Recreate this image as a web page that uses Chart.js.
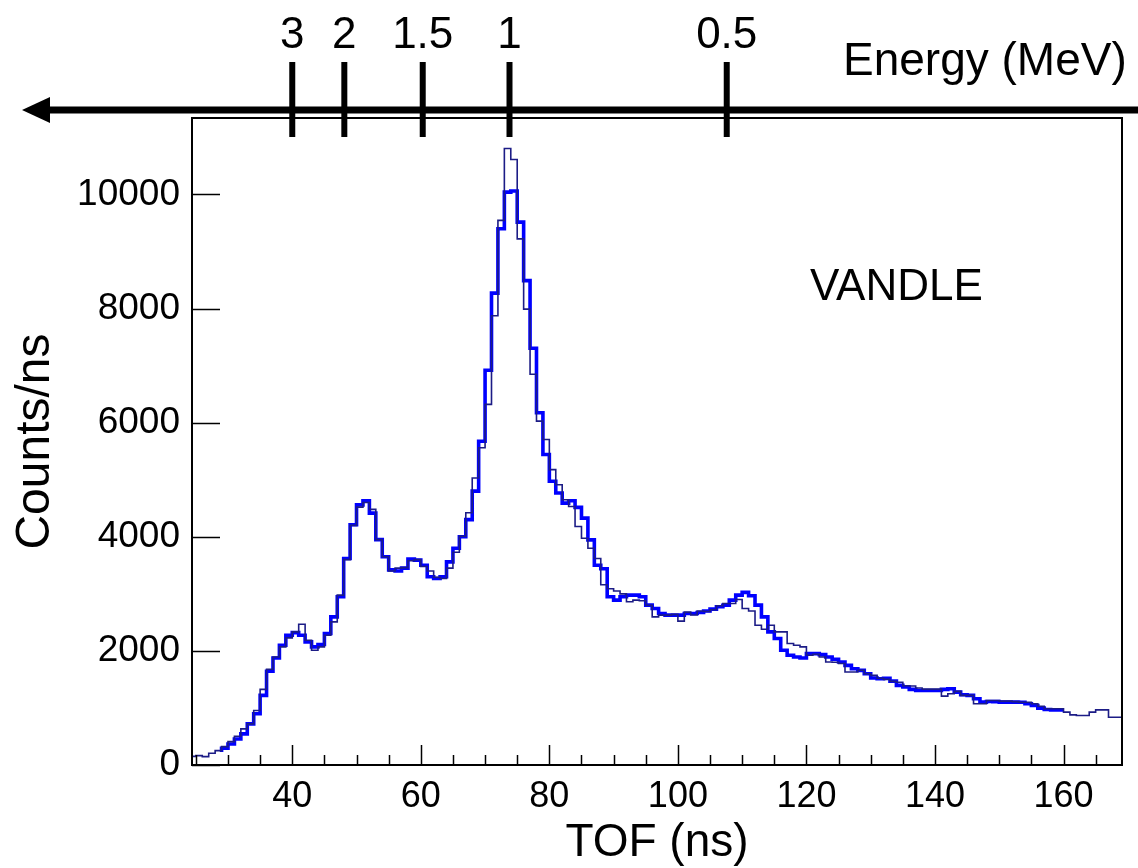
<!DOCTYPE html>
<html lang="en-US">
<head>
  <meta charset="utf-8">
  <title>VANDLE TOF spectrum</title>
  <script src="https://cdn.jsdelivr.net/npm/chart.js"></script>
  <style>
    html, body { margin: 0; padding: 0; background: #fff; }
    canvas { display: block; }
  </style>
</head>

<body>
  <canvas id="chart-0" width="1138" height="868"></canvas>

  <script>
    // 1 ns bins, each value is the content of bin [start + i, start + i + 1]
    let thickStart = 29;
    let thickCounts = [
      230, 293, 369, 457, 545, 721, 897, 1220, 1642, 1876,
      2099, 2275, 2321, 2275, 2158, 2070, 2111, 2304, 2597, 2950,
      3620, 4210, 4560, 4630, 4415, 3950, 3650, 3420, 3400, 3450,
      3610, 3590, 3500, 3300, 3270, 3300, 3560, 3800, 4000, 4300,
      4800, 5675, 6920, 8270, 9400, 10040, 10060, 9515, 8490, 7305,
      6174, 5441, 4972, 4767, 4590, 4632, 4515, 4327, 3946, 3500,
      3440, 2950, 2890, 2949, 2978, 2978, 2949, 2802, 2744, 2656,
      2627, 2627, 2627, 2656, 2656, 2674, 2700, 2732, 2773, 2800,
      2890, 2978, 3025, 2967, 2802, 2597, 2333, 2216, 2011, 1923,
      1894, 1876, 1952, 1952, 1935, 1894, 1853, 1806, 1747, 1688,
      1659, 1600, 1524, 1513, 1520, 1470, 1395, 1366, 1325, 1307,
      1307, 1307, 1307, 1325, 1337, 1278, 1231, 1220, 1161, 1102,
      1114, 1110, 1102, 1102, 1102, 1100, 1073, 1044, 997, 973,
      965
    ];

    let thinStart = 24;
    let thinCounts = [
      110, 152, 164, 147, 205, 252, 322, 410, 504, 633,
      720, 956, 1325, 1677, 1894, 2070, 2228, 2333, 2468, 2187,
      2011, 2070, 2275, 2509, 2978, 3600, 4200, 4520, 4600, 4480,
      3950, 3650, 3400, 3450, 3460, 3580, 3600, 3480, 3400, 3290,
      3270, 3450, 3730, 4010, 4420, 5030, 5560, 6320, 7874, 9545,
      10806, 10612, 9222, 7991, 6848, 6027, 5705, 5177, 4913, 4650,
      4532, 4180, 3975, 3800, 3620, 3160, 3090, 3050, 3000, 2861,
      2890, 2880, 2800, 2597, 2627, 2627, 2640, 2521, 2680, 2630,
      2700, 2690, 2720, 2790, 2830, 2830, 2900, 2744, 2700, 2450,
      2380, 2450, 2333, 2333, 2130, 2100, 2070, 1923, 1940, 1894,
      1806, 1800, 1780, 1630, 1630, 1660, 1600, 1571, 1520, 1500,
      1466, 1450, 1390, 1384, 1349, 1330, 1330, 1330, 1208, 1250,
      1290, 1220, 1220, 1073, 1073, 1130, 1130, 1120, 1120, 1110,
      1100, 1100, 1073, 1030, 985, 985, 985, 926, 879, 868,
      868, 926, 967, 967, 838
    ];

    // energy scale drawn above the frame, placed at the matching TOF
    let energyLabels = ['3', '2', '1.5', '1', '0.5'];
    let energyTof = [40.0, 48.1, 60.3, 73.8, 107.6];

    let xTicks = [40, 60, 80, 100, 120, 140, 160];
    let yTicks = [0, 2000, 4000, 6000, 8000, 10000];

    let FONT = "'Liberation Sans', Arial, Helvetica, sans-serif";

    function toSteps(start, counts) {
      let pts = counts.map(function(v, i) {
        return {x: start + i, y: v};
      });
      // closing edge of the last bin
      pts.push({x: start + counts.length, y: counts[counts.length - 1]});
      return pts;
    }

    let rootStyle = {
      id: 'rootStyle',
      afterDraw: function(chart) {
        let ctx = chart.ctx;
        let area = chart.chartArea;
        let xs = chart.scales.x;
        let ys = chart.scales.y;

        ctx.save();
        ctx.strokeStyle = '#000';

        // frame
        ctx.lineWidth = 2;
        ctx.strokeRect(area.left, area.top, area.right - area.left, area.bottom - area.top);

        // inner ticks, ROOT style: minor every 5 ns
        ctx.lineWidth = 1.5;
        ctx.beginPath();
        for (let t = 25; t <= 165; t += 5) {
          let px = Math.round(xs.getPixelForValue(t)) + 0.5;
          let len = t % 20 === 0 ? 20 : 10;
          ctx.moveTo(px, area.bottom);
          ctx.lineTo(px, area.bottom - len);
        }
        yTicks.forEach(function(v) {
          let py = Math.round(ys.getPixelForValue(v)) + 0.5;
          ctx.moveTo(area.left, py);
          ctx.lineTo(area.left + 28, py);
        });
        ctx.stroke();

        // energy arrow
        let ay = area.top - 8;
        ctx.fillStyle = '#000';
        ctx.lineWidth = 7;
        ctx.beginPath();
        ctx.moveTo(44, ay);
        ctx.lineTo(chart.width, ay);
        ctx.stroke();
        ctx.beginPath();
        ctx.moveTo(22, ay);
        ctx.lineTo(50, ay - 13);
        ctx.lineTo(50, ay + 13);
        ctx.closePath();
        ctx.fill();

        ctx.lineWidth = 6;
        ctx.font = '44px ' + FONT;
        ctx.textAlign = 'center';
        ctx.textBaseline = 'middle';
        energyTof.forEach(function(t, i) {
          let px = xs.getPixelForValue(t);
          ctx.beginPath();
          ctx.moveTo(px, area.top - 56);
          ctx.lineTo(px, area.top + 19);
          ctx.stroke();
          ctx.fillText(energyLabels[i], px, 36);
        });

        ctx.textAlign = 'left';
        ctx.font = '46px ' + FONT;
        ctx.fillText('Energy (MeV)', 843, 62);

        // detector label
        ctx.textAlign = 'center';
        ctx.font = '44px ' + FONT;
        ctx.fillText('VANDLE', xs.getPixelForValue(134), ys.getPixelForValue(8370));
        ctx.restore();
      }
    };

    let chart = new Chart('chart-0', {
      type: 'line',
      data: {
        datasets: [
          {
            label: 'thin',
            data: toSteps(thinStart, thinCounts),
            borderColor: '#1c1c86',
            borderWidth: 1.6
          },
          {
            label: 'thick',
            data: toSteps(thickStart, thickCounts),
            borderColor: '#0000ff',
            borderWidth: 3.6
          }
        ]
      },
      options: {
        responsive: false,
        animation: false,
        devicePixelRatio: 1,
        layout: {
          padding: {top: 118, right: 16, left: 0, bottom: 0}
        },
        elements: {
          line: {stepped: 'after', tension: 0, fill: false},
          point: {radius: 0, hoverRadius: 0}
        },
        plugins: {
          legend: {display: false},
          tooltip: {enabled: false}
        },
        scales: {
          x: {
            type: 'linear',
            min: 24.4,
            max: 169.1,
            afterFit: function(scale) { scale.height = 103; },
            afterBuildTicks: function(scale) {
              scale.ticks = xTicks.map(function(v) { return {value: v}; });
            },
            border: {display: false},
            grid: {drawOnChartArea: false, drawTicks: false},
            ticks: {
              maxRotation: 0,
              autoSkip: false,
              padding: 10,
              color: '#000',
              font: {family: FONT, size: 36},
              callback: function(v) { return String(v); }
            },
            title: {
              display: true,
              text: 'TOF (ns)',
              color: '#000',
              font: {family: FONT, size: 46, lineHeight: 1},
              padding: {top: 0, bottom: 2}
            }
          },
          y: {
            min: 0,
            max: 11340,
            afterFit: function(scale) { scale.width = 192; },
            afterBuildTicks: function(scale) {
              scale.ticks = yTicks.map(function(v) { return {value: v}; });
            },
            border: {display: false},
            grid: {drawOnChartArea: false, drawTicks: false},
            ticks: {
              autoSkip: false,
              padding: 12,
              color: '#000',
              font: {family: FONT, size: 37},
              callback: function(v) { return String(v); }
            },
            title: {
              display: true,
              text: 'Counts/ns',
              color: '#000',
              font: {family: FONT, size: 48, lineHeight: 1},
              padding: {top: 12, bottom: 0}
            }
          }
        }
      },
      plugins: [rootStyle]
    });
  </script>
</body>
</html>
